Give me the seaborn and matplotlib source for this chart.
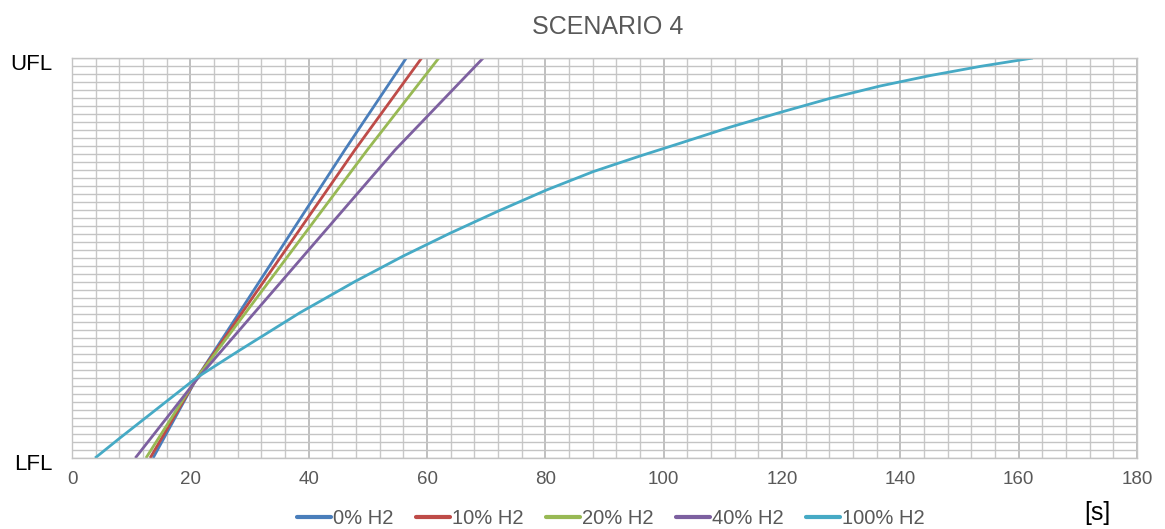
import matplotlib
matplotlib.use("Agg")
import matplotlib.pyplot as plt
import matplotlib.transforms as mtransforms
from matplotlib.ticker import MultipleLocator
import seaborn as sns
import pandas as pd

# Data (normalised: 0 = LFL, 1 = UFL), time in seconds
series_names = ["0% H2", "10% H2", "20% H2", "40% H2", "100% H2"]
t_0 = [13.7, 21.1, 46.1, 56.5]
y_0 = [0.0, 0.20, 0.77, 1.0]
t_10 = [13.2, 21.1, 47.8, 59.1]
y_10 = [0.0, 0.20, 0.77, 1.0]
t_20 = [12.5, 21.1, 49.9, 62.0]
y_20 = [0.0, 0.20, 0.77, 1.0]
t_40 = [10.7, 21.3, 54.6, 69.5]
y_40 = [0.0, 0.20, 0.77, 1.0]
t_100 = [3.9, 8.1, 21.0, 28.4, 38.5, 47.8, 56.0, 63.9, 72.0, 80.2, 88.1,
         96.0, 102.8, 111.2, 119.7, 128.1, 136.6, 145.0, 153.5, 162.4]
y_100 = [0.0, 0.05, 0.20, 0.27, 0.363, 0.441, 0.505, 0.562, 0.617, 0.67, 0.716,
         0.755, 0.787, 0.827, 0.864, 0.899, 0.93, 0.956, 0.979, 1.0]
y_tick_labels = ["LFL", "UFL"]
x_ticks = [0, 20, 40, 60, 80, 100, 120, 140, 160, 180]

colors = ["#4a7ebb", "#be4b48", "#98b954", "#7d60a0", "#46aac5"]

frames = []
for name, t, y in zip(series_names, [t_0, t_10, t_20, t_40, t_100],
                      [y_0, y_10, y_20, y_40, y_100]):
    frames.append(pd.DataFrame({"t": t, "y": y, "series": name}))
df = pd.concat(frames, ignore_index=True)

sns.set_style("white")
plt.rcParams["font.family"] = ["Liberation Sans", "DejaVu Sans"]

fig = plt.figure(figsize=(11.65, 5.29), dpi=100)
ax = fig.add_axes([72 / 1165, 71 / 529, (1137 - 72) / 1165, 400 / 529])

sns.lineplot(data=df, x="t", y="y", hue="series", hue_order=series_names,
             palette=colors, linewidth=2.0, sort=False, estimator=None,
             ax=ax, legend=True)
for ln in ax.lines:
    ln.set_solid_joinstyle("round")
    ln.set_solid_capstyle("butt")

ax.set_xlim(0, 180)
ax.set_ylim(0, 1)
ax.set_xticks(x_ticks)
ax.set_xticklabels([str(v) for v in x_ticks])
ax.set_yticks([0, 1])
ax.set_yticklabels(y_tick_labels)
ax.xaxis.set_minor_locator(MultipleLocator(4))
ax.yaxis.set_minor_locator(MultipleLocator(0.02))
ax.grid(which="major", axis="x", color="#b5b5b5", linewidth=1.2)
ax.grid(which="minor", axis="x", color="#c8c8c8", linewidth=1.0)
ax.grid(which="minor", axis="y", color="#c4c4c4", linewidth=1.0)
ax.grid(which="major", axis="y", color="#c4c4c4", linewidth=1.0)
ax.set_axisbelow(True)
ax.tick_params(axis="both", which="both", length=0)
ax.tick_params(axis="x", labelsize=13.5, labelcolor="#595959", pad=9)
ax.tick_params(axis="y", labelsize=16, labelcolor="#000000", pad=14)
offset = mtransforms.ScaledTranslation(0, -4 / 100, fig.dpi_scale_trans)
for lbl in ax.get_yticklabels():
    lbl.set_transform(lbl.get_transform() + offset)
for s in ax.spines.values():
    s.set_color("#c4c4c4")
    s.set_linewidth(1.0)
ax.set_xlabel("")
ax.set_ylabel("")

ax.legend(handles=ax.get_legend().legend_handles, labels=series_names,
          loc="center", bbox_to_anchor=(0.506, -0.1525), ncol=5,
          frameon=False, fontsize=14.5, handlelength=1.7, handletextpad=0.1,
          columnspacing=1.1, labelcolor="#595959", borderpad=0.2)
for h in ax.get_legend().legend_handles:
    h.set_linewidth(3)

fig.text(608 / 1165, 1 - 27 / 529, "SCENARIO 4", ha="center", va="center",
         fontsize=18, color="#595959")
fig.text(1097 / 1165, 1 - 513 / 529, "[s]", ha="center", va="center",
         fontsize=18, color="#000000")

fig.savefig("out.png", dpi=100)
